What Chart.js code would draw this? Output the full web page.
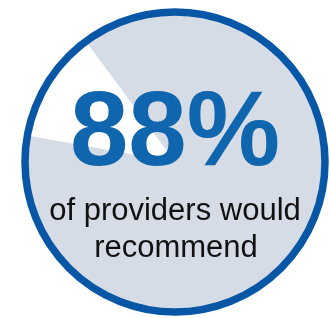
<!DOCTYPE html>
<html>
<head>
<meta charset="utf-8">
<script src="https://cdn.jsdelivr.net/npm/chart.js@4"></script>
<style>
  html, body { margin: 0; padding: 0; background: #fff; }
  #wrap { width: 331px; height: 318px; }
</style>
</head>
<body>
<div id="wrap"><canvas id="pie" width="331" height="318"></canvas></div>
<script>
// data
const labels = ['Would recommend', 'Would not recommend'];
const values = [88, 12];
const sliceColors = ['#d5dce6', '#ffffff'];
const captionLines = ['of providers would', 'recommend'];

// outline + text drawn around the pie centre
const badgePlugin = {
  id: 'badge',
  afterDatasetsDraw(chart) {
    const arc = chart.getDatasetMeta(0).data[0];
    const ctx = chart.ctx;
    const cx = arc.x, cy = arc.y, r = arc.outerRadius;

    ctx.save();
    ctx.beginPath();
    ctx.arc(cx, cy, r, 0, Math.PI * 2);
    ctx.lineWidth = 7.5;
    ctx.strokeStyle = '#0757a6';
    ctx.stroke();

    ctx.textAlign = 'center';
    ctx.textBaseline = 'alphabetic';
    ctx.fillStyle = '#0f65ae';
    ctx.font = 'bold 105px "Liberation Sans", Arial, sans-serif';
    ctx.fillText(values[0] + '%', cx, cy + 3);

    ctx.fillStyle = '#111111';
    ctx.font = '31px "Liberation Sans", Arial, sans-serif';
    ctx.fillText(captionLines[0], cx, cy + 58);
    ctx.fillText(captionLines[1], cx + 1, cy + 95);
    ctx.restore();
  }
};

new Chart(document.getElementById('pie'), {
  type: 'pie',
  data: {
    labels: labels,
    datasets: [{
      data: values,
      backgroundColor: sliceColors,
      borderWidth: 0,
      hoverOffset: 0
    }]
  },
  options: {
    responsive: false,
    animation: false,
    devicePixelRatio: 1,
    rotation: -36.5,
    layout: { padding: { left: 25, top: 12, right: 6, bottom: 6 } },
    plugins: {
      legend: { display: false },
      tooltip: { enabled: false }
    }
  },
  plugins: [badgePlugin]
});
</script>
</body>
</html>
